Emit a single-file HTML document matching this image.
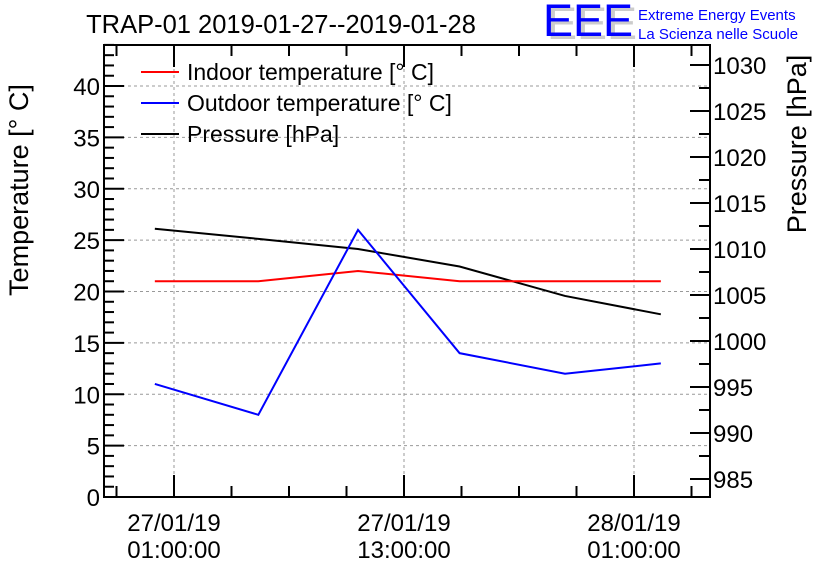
<!DOCTYPE html>
<html><head><meta charset="utf-8"><style>
body{margin:0;background:#fff;}
svg text{font-family:"Liberation Sans",sans-serif;}
</style></head><body>
<svg id="c" width="836" height="572" xmlns="http://www.w3.org/2000/svg">
<text x="281" y="33" font-size="25.5" text-anchor="middle">TRAP-01 2019-01-27--2019-01-28</text>
<g>
<text x="547" y="39" font-size="45" fill="#ccc">EEE</text>
<text x="543" y="36" font-size="45" fill="#0000ff">EEE</text>
<text x="638" y="20" font-size="15" fill="#0000ff">Extreme Energy Events</text>
<text x="638" y="39" font-size="15" fill="#0000ff">La Scienza nelle Scuole</text>
</g>
<g id="grid"></g>
<g id="series"></g>
<g id="axes"></g>
<g>
<line x1="141" y1="72" x2="179" y2="72" stroke="#f00" stroke-width="2"/>
<text x="187" y="80" font-size="23">Indoor temperature [° C]</text>
<line x1="141" y1="103" x2="179" y2="103" stroke="#00f" stroke-width="2"/>
<text x="187" y="111" font-size="23">Outdoor temperature [° C]</text>
<line x1="141" y1="134" x2="179" y2="134" stroke="#000" stroke-width="2"/>
<text x="187" y="142" font-size="23">Pressure [hPa]</text>
</g>
<text transform="translate(28,190) rotate(-90)" font-size="27" text-anchor="middle">Temperature [° C]</text>
<text transform="translate(806,144) rotate(-90)" font-size="27" text-anchor="middle">Pressure [hPa]</text>
</svg>
<script>
const hours=[-1,4.4,9.6,14.9,20.4,25.4];
const indoor=[21,21,22,21,21,21];
const outdoor=[11,8,26,14,12,13];
const pressure=[1012.2,1011.1,1010.0,1008.1,1004.9,1002.9];
const tempTicks=[0,5,10,15,20,25,30,35,40];
const presTicks=[985,990,995,1000,1005,1010,1015,1020,1025,1030];
const xTickHours=[0,12,24];
const xTickLabels=[["27/01/19","01:00:00"],["27/01/19","13:00:00"],["28/01/19","01:00:00"]];
const L=104,R=710,T=45,B=497;
const X=h=>174+h*230/12;
const YT=v=>497-v*10.275;
const YP=v=>65+(1030-v)*9.2;
const NS="http://www.w3.org/2000/svg";
function mk(tag,at,par){const e=document.createElementNS(NS,tag);for(const k in at)e.setAttribute(k,at[k]);document.getElementById(par).appendChild(e);return e;}
xTickHours.forEach(h=>{const e=mk('line',{x1:X(h),x2:X(h),y1:T,y2:B,stroke:'#999','stroke-dasharray':'3,3'},'grid');

});
tempTicks.forEach(v=>{if(v===0)return;const e=mk('line',{x1:L,x2:R,y1:YT(v),y2:YT(v),stroke:'#999','stroke-dasharray':'3,3'},'grid');

});
function line(vals,f,col,name){const pts=vals.map((v,i)=>X(hours[i])+','+f(v)).join(' ');
const e=mk('polyline',{points:pts,fill:'none',stroke:col,'stroke-width':2},'series');

}
line(pressure,YP,'#000','pressure-line');
line(indoor,YT,'#f00','indoor-temperature-line');
line(outdoor,YT,'#00f','outdoor-temperature-line');
const fr=mk('rect',{x:L,y:T,width:R-L,height:B-T,fill:'none',stroke:'#000','stroke-width':2},'axes');


for(let v=0;v<=44;v++){const y=YT(v);const len=v%5===0?20:10;mk('line',{x1:L,x2:L+len,y1:y,y2:y,stroke:'#000','stroke-width':2},'axes');}
tempTicks.forEach(v=>{const t=mk('text',{x:L-4,y:YT(v)+9,'font-size':24,'text-anchor':'end'},'axes');t.textContent=v;

});
for(let v=982.5;v<=1032.5;v+=2.5){const y=YP(v);if(y<T||y>B)continue;const len=(v%5===0)?20:11;mk('line',{x1:R-len,x2:R,y1:y,y2:y,stroke:'#000','stroke-width':2},'axes');}
presTicks.forEach(v=>{const t=mk('text',{x:R+3,y:YP(v)+9,'font-size':24},'axes');t.textContent=v;

});
for(let h=-3;h<=27;h+=3){const x=X(h);if(x<L||x>R)continue;const len=(h%12===0)?22:11;
mk('line',{x1:x,x2:x,y1:B-len,y2:B,stroke:'#000','stroke-width':2},'axes');
mk('line',{x1:x,x2:x,y1:T,y2:T+len,stroke:'#000','stroke-width':2},'axes');}
xTickHours.forEach((h,i)=>{[0,1].forEach(j=>{const t=mk('text',{x:X(h),y:531+j*27,'font-size':24,'text-anchor':'middle'},'axes');t.textContent=xTickLabels[i][j];

});});
</script>
</body></html>
